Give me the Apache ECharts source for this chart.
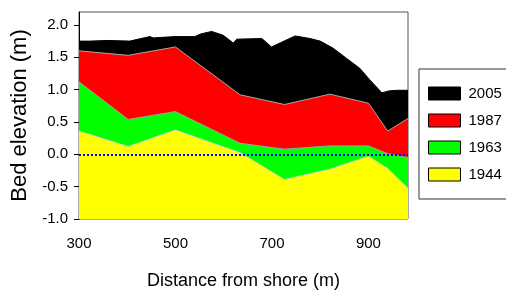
<!DOCTYPE html>
<html>
<head>
<meta charset="utf-8">
<script src="https://cdn.jsdelivr.net/npm/echarts@6/dist/echarts.min.js"></script>
<style>
html, body { margin: 0; padding: 0; background: #fff; }
#chart { width: 506px; height: 297px; }
</style>
</head>
<body>
<div id="chart"></div>
<script>
// bed profile surveys, distance from shore (m) vs elevation (m)
var dist2005 = [300, 322, 360, 405, 447, 450, 454, 499, 540, 552, 575, 599, 620, 627, 679, 699, 748, 779, 800, 827, 855, 882, 903, 928, 942, 959, 982];
var elev2005 = [1.75, 1.75, 1.76, 1.75, 1.82, 1.84, 1.80, 1.82, 1.82, 1.86, 1.90, 1.84, 1.72, 1.78, 1.79, 1.66, 1.83, 1.79, 1.75, 1.64, 1.48, 1.33, 1.15, 0.95, 0.98, 0.99, 0.99];

var distOld = [300, 402, 500, 634, 726, 820, 900, 940, 982];
var elev1987 = [1.60, 1.53, 1.66, 0.92, 0.77, 0.93, 0.79, 0.36, 0.555];
var elev1963 = [1.12, 0.54, 0.66, 0.17, 0.08, 0.13, 0.13, 0.01, -0.05];
var elev1944 = [0.36, 0.12, 0.375, 0.025, -0.39, -0.23, -0.03, -0.22, -0.525];

var years = ['2005', '1987', '1963', '1944'];
var colors = ['#000000', '#ff0000', '#00ff00', '#ffff00'];
var edgeColors = ['#000000', '#a8a8a8', '#a0a0a0', '#d0d0d0'];

var xTicks = [300, 500, 700, 900];
var yTicks = [-1.0, -0.5, 0.0, 0.5, 1.0, 1.5, 2.0];

function zip(xs, ys) {
	return xs.map(function(x, i) { return [x, ys[i]]; });
}

var profiles = [zip(dist2005, elev2005), zip(distOld, elev1987), zip(distOld, elev1963), zip(distOld, elev1944)];

var series = profiles.map(function(d, i) {
	return {
		name: years[i],
		type: 'line',
		data: d,
		showSymbol: false,
		symbol: 'none',
		itemStyle: { color: colors[i] },
		lineStyle: { color: edgeColors[i], width: 1 },
		areaStyle: { color: colors[i], opacity: 1, origin: 'start' }
	};
});
// dotted zero line drawn over the top area
series[3].markLine = {
	silent: true,
	symbol: ['none', 'none'],
	label: { show: false },
	lineStyle: { type: [2, 2], color: '#0000ff', width: 2, opacity: 1 },
	emphasis: { disabled: true },
	data: [{ yAxis: 0 }]
};

var myChart = echarts.init(document.getElementById('chart'));
myChart.setOption({
	animation: false,
	grid: {
		left: 79, right: 98, top: 12, bottom: 78,
		show: true, borderColor: '#555', borderWidth: 1
	},
	legend: {
		orient: 'vertical',
		left: 419, top: 69,
		padding: [17, 30, 17, 9],
		borderColor: '#333', borderWidth: 1,
		itemWidth: 32, itemHeight: 13, itemGap: 12,
		icon: 'rect',
		itemStyle: { borderColor: '#000', borderWidth: 1 },
		textStyle: { fontFamily: 'Liberation Sans', fontSize: 15, color: '#000', lineHeight: 13, padding: [0, 0, 0, 3] },
		data: years
	},
	xAxis: {
		type: 'value',
		min: 300, max: 982,
		name: 'Distance from shore (m)',
		nameLocation: 'middle',
		nameGap: 53,
		nameTextStyle: { fontFamily: 'Liberation Sans', fontSize: 18, color: '#000' },
		splitLine: { show: false },
		axisLine: { show: true, lineStyle: { color: '#cccccc' } },
		axisTick: { show: true, customValues: xTicks, length: 7, lineStyle: { color: '#333' } },
		axisLabel: { customValues: xTicks, margin: 17, fontFamily: 'Liberation Sans', fontSize: 15, color: '#000' }
	},
	yAxis: {
		type: 'value',
		min: -1, max: 2.2,
		name: 'Bed elevation (m)',
		nameLocation: 'middle',
		nameGap: 43,
		nameTextStyle: { fontFamily: 'Liberation Sans', fontSize: 22, color: '#000' },
		splitLine: { show: false },
		axisLine: { show: true, lineStyle: { color: '#000' } },
		axisTick: { show: true, customValues: yTicks, length: 5, lineStyle: { color: '#000' } },
		axisLabel: {
			customValues: yTicks, margin: 11,
			fontFamily: 'Liberation Sans', fontSize: 15, color: '#000',
			formatter: function(v) { return v.toFixed(1); }
		}
	},
	series: series
});
</script>
</body>
</html>
